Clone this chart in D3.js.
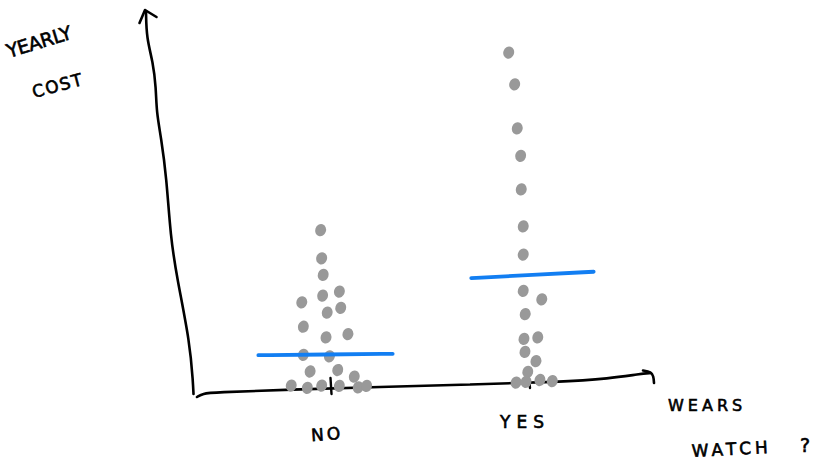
<!DOCTYPE html>
<html>
<head>
<meta charset="utf-8">
<script src="https://cdn.jsdelivr.net/npm/d3@7"></script>
<style>
  html, body { margin: 0; padding: 0; background: #fff; }
  svg { display: block; }
  text { font-family: "DejaVu Sans", sans-serif; fill: #000; stroke: #000; stroke-width: 0.6; }
</style>
</head>
<body>
<svg id="chart" width="815" height="460"></svg>
<script>
// ---- data ----
const categories = ["NO", "YES"];
const noCost = [43.2, 35.6, 31.1, 26.6, 25.5, 23.7, 22.2, 20.9, 17.1, 15.1, 14.2, 9.5, 9.1, 5.0, 5.4, 3.6, 1.2, 0.6, 1.2, 1.1, 0.7, 1.1];
const noJitter = [-0.037, -0.032, -0.024, 0.057, -0.027, -0.132, 0.064, -0.004, -0.124, 0.100, -0.010, -0.124, 0.007, -0.090, 0.049, 0.132, -0.185, -0.104, -0.032, 0.057, 0.152, 0.194];
const yesCost = [91.2, 82.6, 70.7, 63.3, 54.2, 44.2, 36.6, 26.8, 24.5, 20.5, 13.8, 14.2, 10.3, 7.8, 4.9, 2.0, 2.2, 2.7, 2.4];
const yesJitter = [-0.092, -0.062, -0.049, -0.032, -0.029, -0.019, -0.019, -0.019, 0.074, -0.009, -0.015, 0.054, -0.010, 0.045, 0.004, -0.055, -0.005, 0.065, 0.127];
const typicalCost = [9.6, 31.1];
const yLabelLines = ["YEARLY", "COST"];
const xLabelLines = ["WEARS", "WATCH", "?"];

// ---- scales ----
const svg = d3.select("#chart");
const x = d3.scaleLinear().domain([0, 1]).range([328, 527]);
const y = d3.scaleLinear().domain([0, 100]).range([390, 20]);

const points = [];
noCost.forEach((v, i) => points.push({ c: 0, v, j: noJitter[i] }));
yesCost.forEach((v, i) => points.push({ c: 1, v, j: yesJitter[i] }));

// ---- hand-drawn axes ----
const line = d3.line().curve(d3.curveBasis);
const axisG = svg.append("g").attr("fill", "none").attr("stroke", "#000")
  .attr("stroke-width", 2.6).attr("stroke-linecap", "round").attr("stroke-linejoin", "round");

// y axis (wobbly, leaning)
axisG.append("path").attr("d", line([
  [146, 11], [146.5, 38], [153, 62], [156, 88], [156.5, 112], [161, 137],
  [166.5, 177], [170.5, 237], [177, 278], [190, 343], [193, 383], [193.5, 394]
]));
axisG.append("path").attr("d", d3.line()([[139.5, 23], [145, 10], [156.5, 17]]));

// x axis
axisG.append("path").attr("d", line([
  [197, 397], [203, 393.5], [213, 392.5], [290, 389.5], [380, 387], [470, 384.5],
  [560, 382], [610, 378.5], [640, 374], [651, 373]
]));
axisG.append("path").attr("d", line([[643, 370.5], [651, 372], [653.5, 376], [654, 383]]));

// ticks
categories.forEach((c, i) => {
  const tx = x(i) + (i === 0 ? 2.5 : 2);
  axisG.append("line").attr("x1", tx).attr("x2", tx + 1)
    .attr("y1", i === 0 ? 378 : 379).attr("y2", i === 0 ? 394 : 388)
    .attr("stroke-width", 2.4);
});

// ---- dots ----
svg.append("g").selectAll("ellipse").data(points).join("ellipse")
  .attr("cx", d => x(d.c + d.j))
  .attr("cy", d => y(d.v))
  .attr("rx", 5.4)
  .attr("ry", 6.2)
  .attr("transform", d => `rotate(18, ${x(d.c + d.j)}, ${y(d.v)})`)
  .attr("fill", "#999999");

// ---- typical value lines ----
svg.append("g").selectAll("path").data(typicalCost).join("path")
  .attr("d", (v, i) => {
    const tilt = i === 0 ? 0.7 : 3.2;
    const x0 = i === 0 ? x(i - 0.35) : x(i - 0.28);
    const x1 = i === 0 ? x(i + 0.325) : x(i + 0.335);
    return line([[x0, y(v) + tilt], [(x0 + x1) / 2, y(v)], [x1, y(v) - tilt]]);
  })
  .attr("fill", "none")
  .attr("stroke", "#127ef2")
  .attr("stroke-width", 3.8)
  .attr("stroke-linecap", "round");

// ---- texts ----
svg.append("text").attr("x", x(0) - 1).attr("y", 440).attr("text-anchor", "middle")
  .attr("font-size", 17).attr("letter-spacing", 3)
  .attr("transform", `rotate(-4, ${x(0)}, 432)`).text(categories[0]);
svg.append("text").attr("x", x(1) - 2).attr("y", 428).attr("text-anchor", "middle")
  .attr("font-size", 17).attr("letter-spacing", 6).text(categories[1]);

svg.append("text").attr("x", 9).attr("y", 58).attr("font-size", 19)
  .attr("letter-spacing", -0.5)
  .attr("transform", "rotate(-17, 9, 58)").text(yLabelLines[0]);
svg.append("text").attr("x", 34).attr("y", 98).attr("font-size", 17)
  .attr("letter-spacing", 1.5)
  .attr("transform", "rotate(-15, 34, 98)").text(yLabelLines[1]);

svg.append("text").attr("x", 668).attr("y", 411).attr("font-size", 16)
  .attr("letter-spacing", 4).text(xLabelLines[0]);
svg.append("text").attr("x", 692).attr("y", 457).attr("font-size", 17)
  .attr("letter-spacing", 4).attr("transform", "rotate(-3, 692, 457)").text(xLabelLines[1]);
svg.append("text").attr("x", 800).attr("y", 452).attr("font-size", 19).text(xLabelLines[2]);
</script>
</body>
</html>
